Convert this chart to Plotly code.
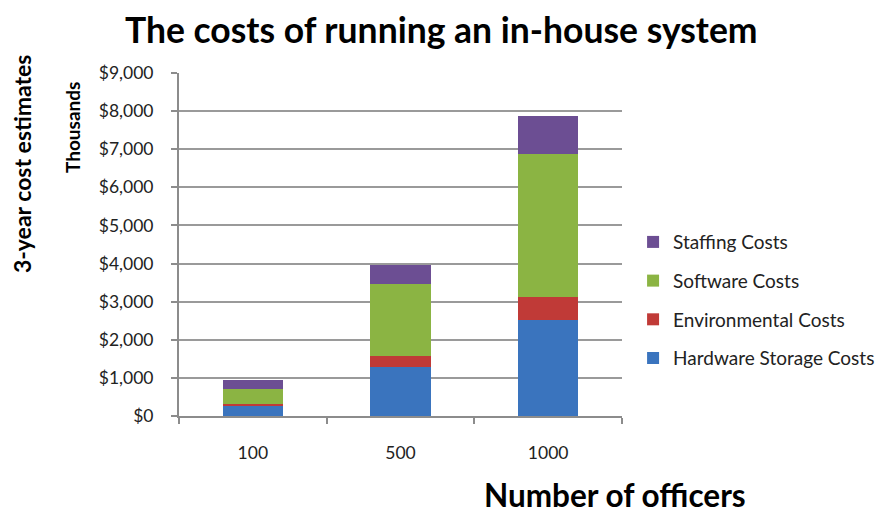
import plotly.graph_objects as go

# Three-year cost estimates (thousands of dollars) by number of officers
officers = ["100", "500", "1000"]
hardware_storage = [262, 1290, 2520]
environmental = [60, 290, 590]
software = [380, 1890, 3760]
staffing = [250, 490, 1000]

series = [
    ("Hardware Storage Costs", hardware_storage, "#3A74BE"),
    ("Environmental Costs", environmental, "#C03A37"),
    ("Software Costs", software, "#8BB443"),
    ("Staffing Costs", staffing, "#6C4E93"),
]

FONT = "Lato, 'Open Sans', sans-serif"

fig = go.Figure()
for i, (name, vals, color) in enumerate(series):
    fig.add_trace(go.Bar(
        x=officers, y=vals, name=name,
        legendgroup=f"g{i}", legendrank=len(series) - i,
        marker=dict(color=color, line=dict(width=0)),
    ))

fig.update_layout(
    barmode="stack",
    bargap=0.59,
    width=879, height=516,
    margin=dict(l=179, r=257, t=73, b=100, autoexpand=False),
    paper_bgcolor="white", plot_bgcolor="white",
    font=dict(family=FONT, size=17, color="#222"),
    title=dict(
        text="<b>The costs of running an in-house system</b>",
        x=0.502, xanchor="center", y=0.94, yanchor="middle",
        font=dict(size=35.5, color="black"),
    ),
    legend=dict(
        x=1.025, xanchor="left", y=0.338, yanchor="middle",
        traceorder="grouped", tracegroupgap=11,
        font=dict(size=19, color="#222"),
        itemwidth=30,
    ),
    xaxis=dict(
        showline=True, linecolor="#8c8c8c", linewidth=2,
        ticks="outside", tickson="boundaries", ticklen=6,
        tickcolor="#8c8c8c", tickwidth=2,
        tickfont=dict(size=17.5, color="#222"),
        ticklabelstandoff=20,
    ),
    yaxis=dict(
        range=[0, 9000], dtick=1000, tickprefix="$", tickformat=",",
        showline=True, linecolor="#8c8c8c", linewidth=2,
        ticks="outside", ticklen=6, tickcolor="#8c8c8c", tickwidth=2,
        showgrid=True, gridcolor="#9a9a9a", gridwidth=2,
        tickfont=dict(size=17.5, color="#222"),
        ticklabelstandoff=14,
        zeroline=False,
    ),
    annotations=[
        dict(text="<b>3-year cost estimates</b>", textangle=-90,
             xref="paper", yref="paper", x=-0.354, y=0.735,
             xanchor="center", yanchor="middle", showarrow=False,
             font=dict(size=23, color="black")),
        dict(text="<b>Thousands</b>", textangle=-90,
             xref="paper", yref="paper", x=-0.239, y=0.84,
             xanchor="center", yanchor="middle", showarrow=False,
             font=dict(size=19, color="black")),
        dict(text="<b>Number of officers</b>",
             xref="paper", yref="paper", x=0.984, y=-0.231,
             xanchor="center", yanchor="middle", showarrow=False,
             font=dict(size=31.5, color="black")),
    ],
)

fig.write_html("out.html")
